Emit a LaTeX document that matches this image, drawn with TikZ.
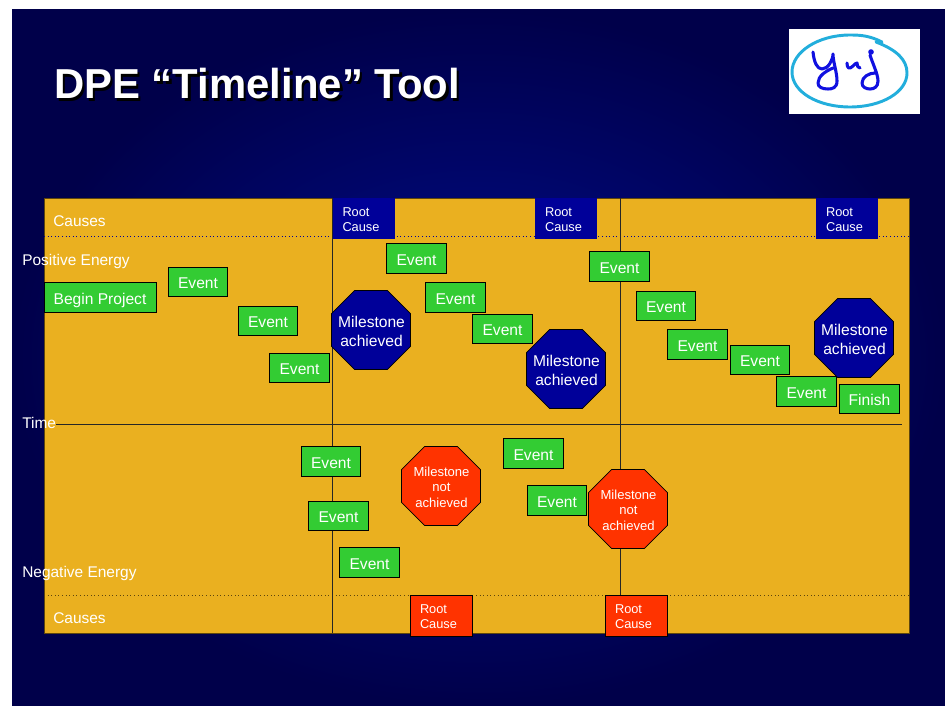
\documentclass[tikz,border=0pt]{standalone}
\usepackage{fontspec}
\setmainfont{Liberation Sans}
\definecolor{navybg}{HTML}{00004A}
\definecolor{navylit}{HTML}{000C8C}
\definecolor{panel}{HTML}{EAB020}
\definecolor{evgreen}{HTML}{33CC33}
\definecolor{deepblue}{HTML}{000099}
\definecolor{redor}{HTML}{FF3300}
\definecolor{ringblue}{HTML}{22AEDC}
\definecolor{inkblue}{HTML}{1010E0}
\newcommand{\octagonat}[2]{\path[#2] (#1) ++(-39.5,-16.4) -- ++(23.1,-23.1) -- ++(32.8,0) -- ++(23.1,23.1) -- ++(0,32.8) -- ++(-23.1,23.1) -- ++(-32.8,0) -- ++(-23.1,-23.1) -- cycle;}
\tikzset{
  px/.style={x=0.75pt,y=-0.75pt},
  lab/.style={text=white,font=\fontsize{11.6pt}{14pt}\selectfont,inner sep=0pt,anchor=west},
  evbox/.style={draw=black,line width=0.7pt,fill=evgreen,text=white,font=\fontsize{11.7pt}{14pt}\selectfont,inner sep=0pt,minimum width=44.6pt,minimum height=22.2pt,text height=10.4pt,text depth=0pt},
  rootbox/.style={text=white,font=\fontsize{9.6pt}{11.8pt}\selectfont,align=left,inner sep=0pt,minimum width=46.5pt,minimum height=30.7pt,text width=31.5pt,text depth=10pt},
  rootblue/.style={rootbox,fill=deepblue},
  rootred/.style={rootbox,fill=redor,draw=black,line width=0.5pt},
  octagood/.style={fill=deepblue,draw=black,line width=0.5pt},
  octabad/.style={fill=redor,draw=black,line width=0.5pt},
  miletext/.style={text=white,align=center,inner sep=0pt,xshift=0.4pt,yshift=-0.75pt},
  milegood/.style={miletext,font=\fontsize{11.7pt}{14.2pt}\selectfont},
  milebad/.style={miletext,font=\fontsize{9.8pt}{11.6pt}\selectfont},
  rule/.style={draw=black!85,line width=0.7pt},
  dotrule/.style={draw=deepblue,line width=0.7pt,dotted},
  logoink/.style={inkblue,line width=2.3pt,line cap=round,line join=round}
}
\begin{document}
\begin{tikzpicture}[px]
\useasboundingbox (0,0) rectangle (945,706);
\fill[white] (0,0) rectangle (945,706);
\shade[inner color=navylit,outer color=navybg] (12,10) rectangle (945,706);
% logo
\node[fill=white,minimum width=98.25pt,minimum height=63.75pt,inner sep=0pt] (logo) at (854.5,71.5) {};
\draw[ringblue,line width=2.2pt,line cap=round] (882,42) .. controls (870,36) and (862,35) .. (850,35) .. controls (818,35) and (792,52) .. (792,72) .. controls (792,92) and (818,107) .. (850,107) .. controls (882,107) and (907,92) .. (907,73) .. controls (907,60) and (897,50) .. (876,42);
\draw[logoink] (813,52) .. controls (814,62) and (817,69) .. (822,69) .. controls (828,69) and (833,60) .. (833,54) .. controls (833,62) and (837,72) .. (837,81) .. controls (837,88) and (832,89) .. (828,89) .. controls (822,89) and (818,87) .. (818,83) .. controls (818,76) and (826,71) .. (833,68);
\draw[logoink] (847,63) .. controls (847,68) and (849,70) .. (853,66) .. controls (855,64) and (856,63) .. (857,63) .. controls (857,66) and (858,68) .. (860,68);
\draw[logoink] (870,55) .. controls (872,62) and (878,74) .. (878,81) .. controls (878,87) and (874,89) .. (870,89) .. controls (866,89) and (862,87) .. (862,83) .. controls (862,77) and (869,73) .. (875,73);
\fill[inkblue] (871,52) circle (2.8);
% title
\node[font=\bfseries\fontsize{31.4pt}{36pt}\selectfont,text=black,inner sep=0pt,anchor=west] (titleshadow) at (56.5,86.5) {DPE “Timeline” Tool};
\node[font=\bfseries\fontsize{31.4pt}{36pt}\selectfont,text=white,inner sep=0pt,anchor=west] (title) at (54,84) {DPE “Timeline” Tool};
% panel
\node[fill=panel,draw=black!60!panel,line width=0.6pt,inner sep=0pt,minimum width=648.75pt,minimum height=326.25pt] (panelbox) at (476.5,415.5) {};
\coordinate (dotAw) at (44,236.5);\coordinate (dotAe) at (909,236.5);
\coordinate (dotBw) at (44,595);\coordinate (dotBe) at (909,595);
\draw[dotrule] (dotAw) -- (dotAe);
\draw[draw=black!60!panel,line width=0.7pt,dotted] (dotBw) -- (dotBe);
\coordinate (v1t) at (332,198);\coordinate (v1b) at (332,633);
\coordinate (v2t) at (620,198);\coordinate (v2b) at (620,633);
\coordinate (tw) at (56,424);\coordinate (te) at (902,424);
\draw[rule] (v1t) -- (v1b);
\draw[rule] (v2t) -- (v2b);
\draw[rule] (tw) -- (te);
% labels
\node[lab] (cTop) at (53,221) {Causes};
\node[lab] (posE) at (22,261) {Positive Energy};
\node[lab] (tim) at (22,423) {Time};
\node[lab] (negE) at (22,573) {Negative Energy};
\node[lab] (cBot) at (53,618) {Causes};
% root causes
\node[rootblue] (r1) at (363.5,218.5) {Root\\Cause};
\node[rootblue] (r2) at (566,218.5) {Root\\Cause};
\node[rootblue] (r3) at (847,218.5) {Root\\Cause};
\node[rootred] (r4) at (441,615.5) {Root\\Cause};
\node[rootred] (r5) at (636,615.5) {Root\\Cause};
% events
\node[evbox,minimum width=84pt] (begin) at (100,297.5) {Begin Project};
\node[evbox] (e1) at (198,282) {Event};
\node[evbox] (e2) at (268,321) {Event};
\node[evbox] (e3) at (299.5,368) {Event};
\node[evbox] (e4) at (416.5,258.5) {Event};
\node[evbox] (e5) at (455.5,297.5) {Event};
\node[evbox] (e6) at (502.5,329) {Event};
\node[evbox] (e7) at (619.5,266.5) {Event};
\node[evbox] (e8) at (666,306) {Event};
\node[evbox] (e9) at (697.5,344.5) {Event};
\node[evbox] (e10) at (760,360) {Event};
\node[evbox] (e11) at (806.5,391.5) {Event};
\node[evbox] (finish) at (869.5,399) {Finish};
\node[evbox] (e12) at (331,461.5) {Event};
\node[evbox] (e13) at (338.5,516) {Event};
\node[evbox] (e14) at (369.5,562.5) {Event};
\node[evbox] (e15) at (533.5,453.5) {Event};
\node[evbox] (e16) at (557,500.5) {Event};
% milestones
\coordinate (c1) at (371,330);\coordinate (c2) at (566,369);\coordinate (c3) at (854,338);
\coordinate (c4) at (441,486);\coordinate (c5) at (628,509);
\octagonat{c1}{octagood}\octagonat{c2}{octagood}\octagonat{c3}{octagood}
\octagonat{c4}{octabad}\octagonat{c5}{octabad}
\node[milegood] (m1) at (c1) {Milestone\\achieved};
\node[milegood] (m2) at (c2) {Milestone\\achieved};
\node[milegood] (m3) at (c3) {Milestone\\achieved};
\node[milebad] (m4) at (c4) {Milestone\\not\\achieved};
\node[milebad] (m5) at (c5) {Milestone\\not\\achieved};
\end{tikzpicture}
\end{document}
